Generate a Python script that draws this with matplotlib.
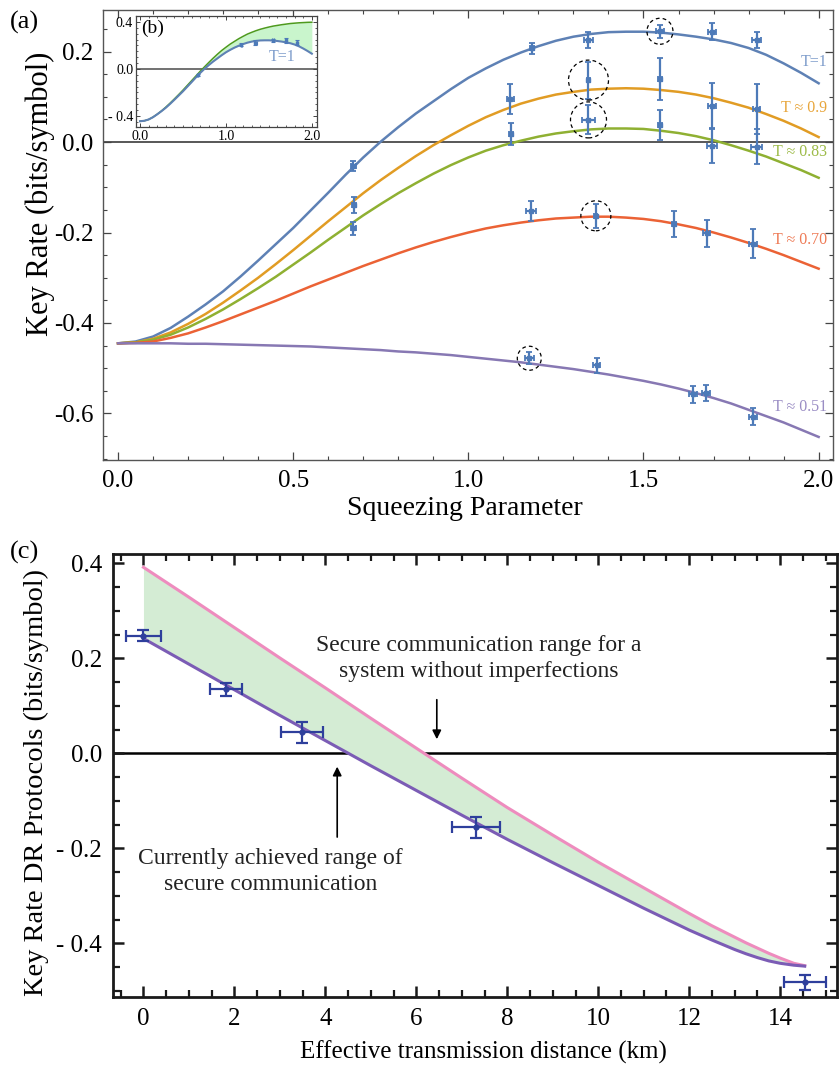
import matplotlib
matplotlib.use("Agg")
import matplotlib.pyplot as plt
from matplotlib.ticker import MultipleLocator, FixedLocator, FixedFormatter
from matplotlib.patches import Ellipse

plt.rcParams['font.family'] = ['Liberation Serif', 'DejaVu Serif']

# ---------------- panel (a): key rate vs squeezing ----------------
squeezing = [0.00, 0.05, 0.10, 0.15, 0.20, 0.25, 0.30, 0.35, 0.40, 0.45,
             0.50, 0.55, 0.60, 0.65, 0.70, 0.75, 0.80, 0.85, 0.90, 0.95,
             1.00, 1.05, 1.10, 1.15, 1.20, 1.25, 1.30, 1.35, 1.40, 1.45,
             1.50, 1.55, 1.60, 1.65, 1.70, 1.75, 1.80, 1.85, 1.90, 1.95, 2.00]
rate_T100 = [-0.445, -0.441, -0.430, -0.411, -0.386, -0.359, -0.330, -0.297, -0.262, -0.226,
             -0.190, -0.151, -0.112, -0.072, -0.034, 0.001, 0.033, 0.063, 0.090, 0.117,
             0.142, 0.163, 0.182, 0.198, 0.212, 0.224, 0.233, 0.239, 0.243, 0.244,
             0.244, 0.242, 0.238, 0.233, 0.227, 0.219, 0.208, 0.193, 0.174, 0.153, 0.130]
rate_T090 = [-0.445, -0.443, -0.435, -0.421, -0.402, -0.380, -0.355, -0.328, -0.300, -0.270,
             -0.239, -0.207, -0.175, -0.144, -0.113, -0.084, -0.057, -0.031, -0.007, 0.015,
             0.036, 0.055, 0.071, 0.085, 0.096, 0.105, 0.111, 0.116, 0.118, 0.119,
             0.118, 0.115, 0.111, 0.105, 0.097, 0.087, 0.076, 0.062, 0.047, 0.030, 0.011]
rate_T083 = [-0.445, -0.443, -0.437, -0.426, -0.410, -0.391, -0.370, -0.347, -0.323, -0.298,
             -0.271, -0.244, -0.216, -0.189, -0.162, -0.137, -0.113, -0.091, -0.070, -0.051,
             -0.034, -0.019, -0.007, 0.003, 0.012, 0.019, 0.024, 0.028, 0.030, 0.030,
             0.029, 0.025, 0.020, 0.013, 0.004, -0.007, -0.019, -0.032, -0.047, -0.062, -0.079]
rate_T070 = [-0.445, -0.444, -0.441, -0.433, -0.423, -0.410, -0.396, -0.381, -0.366, -0.351,
             -0.335, -0.319, -0.304, -0.289, -0.274, -0.260, -0.246, -0.233, -0.221, -0.210,
             -0.200, -0.191, -0.184, -0.178, -0.173, -0.169, -0.167, -0.165, -0.165, -0.167,
             -0.170, -0.175, -0.182, -0.190, -0.200, -0.211, -0.223, -0.236, -0.250, -0.265, -0.280]
rate_T051 = [-0.445, -0.445, -0.445, -0.445, -0.446, -0.446, -0.447, -0.448, -0.449, -0.450,
             -0.451, -0.452, -0.454, -0.456, -0.458, -0.460, -0.463, -0.465, -0.468, -0.471,
             -0.475, -0.479, -0.483, -0.487, -0.492, -0.497, -0.502, -0.508, -0.514, -0.521,
             -0.528, -0.536, -0.545, -0.555, -0.566, -0.578, -0.592, -0.606, -0.620, -0.636, -0.652]
# ideal system (no imperfections), inset (b)
rate_ideal = [-0.445, -0.441, -0.430, -0.410, -0.385, -0.357, -0.325, -0.291, -0.255, -0.218,
              -0.180, -0.140, -0.100, -0.060, -0.020, 0.018, 0.055, 0.091, 0.125, 0.157,
              0.185, 0.212, 0.235, 0.258, 0.278, 0.297, 0.312, 0.326, 0.338, 0.348,
              0.357, 0.365, 0.371, 0.377, 0.382, 0.387, 0.390, 0.393, 0.395, 0.397, 0.398]

curve_labels = ["T=1", "T \u2248 0.9", "T \u2248 0.83", "T \u2248 0.70", "T \u2248 0.51"]

# measured points (squeezing, rate, errors)
pts_T100_s = [0.672, 1.181, 1.343, 1.547, 1.695, 1.823]
pts_T100_v = [-0.052, 0.207, 0.225, 0.245, 0.244, 0.225]
pts_T100_ve = [0.011, 0.013, 0.018, 0.014, 0.019, 0.018]
pts_T100_se = [0.006, 0.006, 0.014, 0.011, 0.011, 0.012]

pts_T090_s = [0.674, 1.119, 1.343, 1.547, 1.695, 1.823]
pts_T090_v = [-0.139, 0.095, 0.137, 0.139, 0.080, 0.073]
pts_T090_ve = [0.018, 0.034, 0.041, 0.047, 0.050, 0.055]
pts_T090_se = [0.005, 0.010, 0.005, 0.005, 0.011, 0.011]

pts_T083_s = [0.672, 1.122, 1.343, 1.547, 1.695, 1.823]
pts_T083_v = [-0.191, 0.018, 0.049, 0.038, -0.009, -0.010]
pts_T083_ve = [0.015, 0.024, 0.032, 0.033, 0.038, 0.039]
pts_T083_se = [0.006, 0.006, 0.019, 0.006, 0.015, 0.015]

pts_T070_s = [1.179, 1.364, 1.587, 1.680, 1.813]
pts_T070_v = [-0.152, -0.163, -0.182, -0.202, -0.225]
pts_T070_ve = [0.022, 0.027, 0.029, 0.030, 0.032]
pts_T070_se = [0.014, 0.004, 0.006, 0.010, 0.011]

pts_T051_s = [1.174, 1.366, 1.642, 1.678, 1.812]
pts_T051_v = [-0.478, -0.494, -0.558, -0.555, -0.607]
pts_T051_ve = [0.013, 0.016, 0.018, 0.018, 0.018]
pts_T051_se = [0.012, 0.011, 0.011, 0.011, 0.011]

# which point of each series is highlighted by a dashed circle
highlight_index = [3, 2, 2, 1, 0]

a_xticks = [0.0, 0.5, 1.0, 1.5, 2.0]
a_xticklabels = ["0.0", "0.5", "1.0", "1.5", "2.0"]
a_yticks = [-0.6, -0.4, -0.2, 0.0, 0.2]
a_yticklabels = ["-0.6", "-0.4", "-0.2", "0.0", "0.2"]

b_xticks = [0.0, 1.0, 2.0]
b_xticklabels = ["0.0", "1.0", "2.0"]
b_yticks = [-0.4, 0.0, 0.4]
b_yticklabels = ["- 0.4", "0.0", "0.4"]

# ---------------- panel (c): key rate vs distance ----------------
distance = [0, 1, 2, 3, 4, 5, 6, 7, 8, 9, 10, 11, 11.5, 12, 12.5, 13, 13.25, 13.5,
            13.75, 14, 14.3, 14.54]
rate_ideal_dist = [0.392, 0.329, 0.265, 0.201, 0.138, 0.074, 0.011, -0.052, -0.114, -0.172,
                   -0.229, -0.283, -0.310, -0.337, -0.363, -0.387, -0.399, -0.410,
                   -0.421, -0.431, -0.442, -0.447]
rate_achieved_dist = [0.242, 0.188, 0.134, 0.080, 0.027, -0.026, -0.078, -0.130, -0.181, -0.230,
                      -0.278, -0.326, -0.349, -0.372, -0.393, -0.413, -0.422, -0.430,
                      -0.437, -0.442, -0.446, -0.448]
meas_dist = [0.0, 1.82, 3.48, 7.31, 14.54]
meas_rate = [0.248, 0.135, 0.045, -0.156, -0.482]
meas_dist_err = [0.39, 0.35, 0.46, 0.52, 0.46]
meas_rate_err = [0.012, 0.014, 0.022, 0.022, 0.016]

c_xticks = [0, 2, 4, 6, 8, 10, 12, 14]
c_xticklabels = ["0", "2", "4", "6", "8", "10", "12", "14"]
c_yticks = [-0.4, -0.2, 0.0, 0.2, 0.4]
c_yticklabels = ["- 0.4", "- 0.2", "0.0", "0.2", "0.4"]

# ---------------- styling ----------------
curve_colors = ["#5E81B5", "#E19C24", "#8FB032", "#EB6235", "#8778B3"]
label_colors = ["#7D9CCB", "#E8A63C", "#9DBB48", "#EE7A55", "#9A8DC4"]
point_color = "#4D7AB8"
circle_radius_px = [13, 20, 18, 15, 12]
label_y = [0.177, 0.075, -0.022, -0.217, -0.586]

fig = plt.figure(figsize=(8.4, 10.71), dpi=100)
W, H = 840.0, 1071.0


def frac(l, t, r, b):
    return [l / W, 1 - b / H, (r - l) / W, (b - t) / H]


ax = fig.add_axes(frac(103, 10, 833, 460))
ax.set_xlim(-0.043, 2.041)
ax.set_ylim(-0.703, 0.292)

ax.axhline(0.0, color="#4a4a4a", lw=1.3, zorder=1)
curves = [rate_T100, rate_T090, rate_T083, rate_T070, rate_T051]
for yv, col in zip(curves, curve_colors):
    ax.plot(squeezing, yv, color=col, lw=1.8, zorder=2, solid_joinstyle="round")

series = [
    (pts_T100_s, pts_T100_v, pts_T100_se, pts_T100_ve),
    (pts_T090_s, pts_T090_v, pts_T090_se, pts_T090_ve),
    (pts_T083_s, pts_T083_v, pts_T083_se, pts_T083_ve),
    (pts_T070_s, pts_T070_v, pts_T070_se, pts_T070_ve),
    (pts_T051_s, pts_T051_v, pts_T051_se, pts_T051_ve),
]
for s, v, se, ve in series:
    ax.errorbar(s, v, yerr=ve, xerr=se, fmt="s", ms=3.2, color=point_color,
                ecolor=point_color, elinewidth=1.6, capsize=2.5, capthick=1.3, zorder=4)

# dashed circles around highlighted points
bb = ax.get_window_extent()
px_x = bb.width / (ax.get_xlim()[1] - ax.get_xlim()[0])
px_y = bb.height / (ax.get_ylim()[1] - ax.get_ylim()[0])
for (s, v, se, ve), idx, r in zip(series, highlight_index, circle_radius_px):
    ax.add_patch(Ellipse((s[idx], v[idx]), 2 * r / px_x, 2 * r / px_y, fill=False,
                         ec="black", lw=0.9, ls=(0, (3, 2.5)), zorder=5))

for lab, col, yl in zip(curve_labels, label_colors, label_y):
    ax.text(2.025, yl, lab, color=col, fontsize=11.5, ha="right", va="center", zorder=6)

ax.xaxis.set_major_locator(FixedLocator(a_xticks))
ax.xaxis.set_major_formatter(FixedFormatter(a_xticklabels))
ax.yaxis.set_major_locator(FixedLocator(a_yticks))
ax.yaxis.set_major_formatter(FixedFormatter(a_yticklabels))
ax.xaxis.set_minor_locator(MultipleLocator(0.1))
ax.yaxis.set_minor_locator(MultipleLocator(0.05))
ax.tick_params(which="both", direction="in", top=True, right=True, color="#444444")
ax.tick_params(which="major", length=6, width=0.9, labelsize=18, pad=7)
ax.tick_params(which="minor", length=3, width=0.8)
for sp in ax.spines.values():
    sp.set_color("#555555")
    sp.set_linewidth(1.0)
ax.set_xlabel("Squeezing Parameter", fontsize=20)
ax.set_ylabel("Key Rate (bits/symbol)", fontsize=22)
ax.xaxis.set_label_coords(0.496, -0.107)
ax.yaxis.set_label_coords(-0.086, 0.591)
ax.xaxis.label.set_va("center")
ax.yaxis.label.set_va("center")
fig.text(10 / W, 1 - 22 / H, "(a)", fontsize=19, ha="left", va="center")

# ---------------- inset (b) ----------------
axb = fig.add_axes(frac(136, 16, 317, 127))
axb.set_xlim(-0.047, 2.06)
axb.set_ylim(-0.494, 0.451)
axb.axhline(0.0, color="#4a4a4a", lw=1.1, zorder=1)
axb.fill_between(squeezing, rate_T100, rate_ideal,
                 where=[u >= l for u, l in zip(rate_ideal, rate_T100)],
                 color="#C9F5CC", lw=0, zorder=1.5)
axb.plot(squeezing, rate_ideal, color="#4E9A1E", lw=1.1, zorder=2)
axb.plot(squeezing, rate_T100, color=curve_colors[0], lw=1.5, zorder=3)
axb.errorbar(pts_T100_s, pts_T100_v, yerr=pts_T100_ve, xerr=pts_T100_se, fmt="s", ms=1.6,
             color=point_color, ecolor=point_color, elinewidth=1.0, capsize=1.2,
             capthick=0.8, zorder=4)
axb.xaxis.set_major_locator(FixedLocator(b_xticks))
axb.xaxis.set_major_formatter(FixedFormatter(b_xticklabels))
axb.yaxis.set_major_locator(FixedLocator(b_yticks))
axb.yaxis.set_major_formatter(FixedFormatter(b_yticklabels))
axb.xaxis.set_minor_locator(MultipleLocator(0.1))
axb.yaxis.set_minor_locator(MultipleLocator(0.05))
axb.tick_params(which="both", direction="in", top=True, right=True, color="#444444")
axb.tick_params(which="major", length=3, width=0.7, labelsize=10, pad=2)
axb.tick_params(which="minor", length=1.5, width=0.6)
for sp in axb.spines.values():
    sp.set_color("#444444")
    sp.set_linewidth(0.9)
axb.text(0.094, 0.89, "(b)", transform=axb.transAxes, fontsize=14, ha="center", va="center")
axb.text(0.807, 0.63, curve_labels[0], transform=axb.transAxes, fontsize=11.5,
         color=label_colors[0], ha="center", va="center")

# ---------------- panel (c) ----------------
axc = fig.add_axes(frac(113, 554, 837, 997))
axc.set_xlim(-0.67, 15.25)
axc.set_ylim(-0.513, 0.42)
axc.axhline(0.0, color="black", lw=1.8, zorder=1)
axc.fill_between(distance, rate_achieved_dist, rate_ideal_dist, color="#D4ECD4", lw=0, zorder=1.5)
axc.plot(distance, rate_ideal_dist, color="#EE8CBE", lw=2.2, zorder=2, solid_joinstyle="round")
axc.plot(distance, rate_achieved_dist, color="#7B5CB5", lw=2.2, zorder=3, solid_joinstyle="round")
axc.errorbar(meas_dist, meas_rate, yerr=meas_rate_err, xerr=meas_dist_err, fmt="o", ms=3.5,
             color="#2E3F9C", ecolor="#2E3F9C", elinewidth=1.6, capsize=4, capthick=1.6, zorder=5)

axc.annotate("", xy=(6.45, 0.024), xytext=(6.45, 0.119),
             arrowprops=dict(arrowstyle="-|>", color="black", lw=1.2, mutation_scale=13))
axc.annotate("", xy=(4.26, -0.022), xytext=(4.26, -0.182),
             arrowprops=dict(arrowstyle="-|>", color="black", lw=1.2, mutation_scale=13))
axc.text(7.38, 0.20, "Secure communication range for a\nsystem without imperfections",
         fontsize=17, ha="center", va="center", linespacing=1.3, color="#222222")
axc.text(2.8, -0.248, "Currently achieved range of\nsecure communication",
         fontsize=17, ha="center", va="center", linespacing=1.3, color="#222222")

axc.xaxis.set_major_locator(FixedLocator(c_xticks))
axc.xaxis.set_major_formatter(FixedFormatter(c_xticklabels))
axc.yaxis.set_major_locator(FixedLocator(c_yticks))
axc.yaxis.set_major_formatter(FixedFormatter(c_yticklabels))
axc.xaxis.set_minor_locator(MultipleLocator(0.5))
axc.yaxis.set_minor_locator(MultipleLocator(0.05))
axc.tick_params(which="both", direction="in", top=True, right=True, color="#1a1a1a")
axc.tick_params(which="major", length=8, width=1.8, labelsize=18, pad=8)
axc.tick_params(which="minor", length=5, width=1.6)
for sp in axc.spines.values():
    sp.set_color("#1a1a1a")
    sp.set_linewidth(2.0)
axc.set_xlabel("Effective transmission distance (km)", fontsize=18)
axc.set_ylabel("Key Rate DR Protocols (bits/symbol)", fontsize=20.5)
axc.xaxis.set_label_coords(0.511, -0.125)
axc.yaxis.set_label_coords(-0.106, 0.484)
axc.xaxis.label.set_va("center")
axc.yaxis.label.set_va("center")
fig.text(10 / W, 1 - 552 / H, "(c)", fontsize=19, ha="left", va="center")

fig.savefig("out.png", dpi=100)
